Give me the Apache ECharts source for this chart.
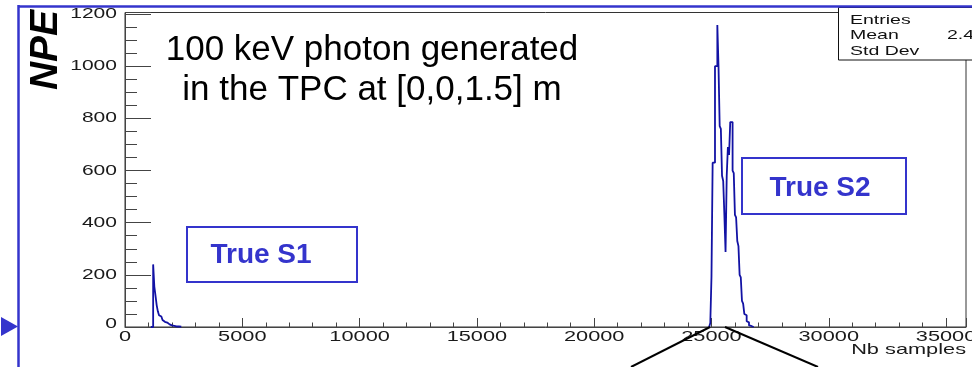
<!DOCTYPE html>
<html><head><meta charset="utf-8">
<script src="https://cdn.jsdelivr.net/npm/echarts@6/dist/echarts.min.js"></script>
<style>html,body{margin:0;padding:0;background:#fff}#c{width:972px;height:367px}</style>
</head><body><div id="c"></div>
<script>
// S1 histogram (bin left edges in samples, NPE per bin)
const s1Samples = [1100, 1200, 1250, 1300, 1350, 1400, 1450, 1500, 1550, 1600, 1650, 1700, 1800, 1900, 2000, 2100, 2200, 2300, 2400];
const s1NPE     = [0,    240,  155,  120,  84,   60,   45,   40,   33,   27,   20,   17,   10,   6,    4,    2,    2,    1,    0];
// S2 histogram
const s2Samples = [24900, 24950, 25000, 25050, 25100, 25150, 25200, 25250, 25300, 25350, 25400, 25450, 25500, 25550, 25600, 25650, 25700, 25750, 25800, 25850, 25900, 25950, 26000, 26050, 26100, 26150, 26200, 26250, 26300, 26350, 26400, 26450, 26500, 26550, 26600, 26650, 26700, 26750, 26800];
const s2NPE     = [0,     15,    192,   630,   630,   1000,  1000,  1158,  1000,  770,   760,   580,   560,   430,   288,   580,   690,   660,   786,   786,   600,   590,   430,   420,   330,   310,   200,   190,   100,   90,    50,    45,    22,    18,    6,     4,     1,     0,     0];
// axis ticks
const xTickValues = [0, 5000, 10000, 15000, 20000, 25000, 30000, 35000];
const xTickLabels = ['0', '5000', '10000', '15000', '20000', '25000', '30000', '35000'];
const yTickValues = [0, 200, 400, 600, 800, 1000, 1200];
const yTickLabels = ['0', '200', '400', '600', '800', '1000', '1200'];
const xName = 'Nb samples';
const yName = 'NPE';
const titleLines = ['100 keV photon generated', 'in the TPC at [0,0,1.5] m'];
const statsRows = ['Entries', 'Mean', 'Std Dev'];
const statsValues = ['', '2.4', ''];

const chart = echarts.init(document.getElementById('c'), null, {renderer: 'canvas'});
const zip = (a, b) => a.map((v, i) => [v, b[i]]);
const histColor = '#1212a4';
const blue = '#3434cc';
const FONT = '"Liberation Sans", Arial, sans-serif';

const option = {
  animation: false,
  grid: {left: 125, right: 6, top: 12.5, bottom: 40, show: true, borderColor: '#333', borderWidth: 1},
  xAxis: {
    type: 'value', min: 0, max: 35850, interval: 5000,
    axisLine: {lineStyle: {color: '#444', width: 1}},
    axisTick: {inside: true, length: 9, lineStyle: {color: '#444'}},
    minorTick: {show: true, splitNumber: 5, length: 4.5, lineStyle: {color: '#444'}},
    axisLabel: {show: false},
    splitLine: {show: false}
  },
  yAxis: {
    type: 'value', min: 0, max: 1206, interval: 200,
    axisLine: {show: true, lineStyle: {color: '#444', width: 1}},
    axisTick: {show: true, inside: true, length: 26, lineStyle: {color: '#444'}},
    minorTick: {show: true, splitNumber: 4, length: 12, lineStyle: {color: '#444'}},
    axisLabel: {show: false},
    splitLine: {show: false}
  },
  series: [
    {type: 'line', step: 'end', data: zip(s1Samples, s1NPE), showSymbol: false, symbol: 'none',
     lineStyle: {color: histColor, width: 1.8}, z: 3},
    {type: 'line', step: 'end', data: zip(s2Samples, s2NPE), showSymbol: false, symbol: 'none',
     lineStyle: {color: histColor, width: 1.8}, z: 3}
  ]
};
chart.setOption(option);

const g = [];
const txt = (x, y, text, opts) => Object.assign({
  type: 'text', x: x, y: y, z: 50,
  style: Object.assign({text: text, x: 0, y: 0, fill: '#1a1a1a', font: '14.5px ' + FONT,
    align: 'center', verticalAlign: 'middle', textAlign: 'center', textVerticalAlign: 'middle'}, opts.style || {})
}, opts.el || {});

// tick labels (horizontally stretched like the original pasted plot)
xTickValues.forEach((v, i) => {
  const p = chart.convertToPixel({gridIndex: 0}, [v, 0]);
  g.push(txt(p[0], p[1] + 10, xTickLabels[i], {el: {scaleX: 1.5}}));
});
yTickValues.forEach((v, i) => {
  const p = chart.convertToPixel({gridIndex: 0}, [0, v]);
  g.push(txt(p[0] - 8, p[1] - (v === 0 ? 3 : 0), yTickLabels[i], {el: {scaleX: 1.45}, style: {align: 'right', textAlign: 'right'}}));
});
g.push(txt(966, 350, xName, {el: {scaleX: 1.5}, style: {align: 'right', textAlign: 'right'}}));

// Y title
g.push(txt(46, 50, yName, {el: {rotation: Math.PI / 2}, style: {font: 'bold italic 39px ' + FONT, fill: '#000'}}));

// main annotation
g.push(txt(372, 50, titleLines[0], {style: {font: '35px ' + FONT, fill: '#000'}}));
g.push(txt(372, 90, titleLines[1], {style: {font: '35px ' + FONT, fill: '#000'}}));

// True S1 / S2 boxes
g.push({type: 'rect', shape: {x: 187, y: 227, width: 170, height: 55}, style: {fill: 'none', stroke: blue, lineWidth: 2}, z: 40});
g.push(txt(261, 255, 'True S1', {style: {font: 'bold 28px ' + FONT, fill: blue}}));
g.push({type: 'rect', shape: {x: 742, y: 158, width: 164, height: 56}, style: {fill: 'none', stroke: blue, lineWidth: 2}, z: 40});
g.push(txt(820, 188, 'True S2', {style: {font: 'bold 28px ' + FONT, fill: blue}}));

// stats box
g.push({type: 'rect', shape: {x: 838.5, y: 7.5, width: 140, height: 52.5}, style: {fill: '#fff', stroke: '#111', lineWidth: 1}, z: 45});
const rowY = [20.5, 35.5, 51];
statsRows.forEach((r, i) => {
  g.push(txt(850, rowY[i], r, {el: {scaleX: 1.5}, style: {align: 'left', textAlign: 'left', font: '13px ' + FONT, fill: '#111'}}));
  if (statsValues[i]) g.push(txt(947, rowY[i], statsValues[i], {el: {scaleX: 1.5}, style: {align: 'left', textAlign: 'left', font: '13px ' + FONT, fill: '#111'}}));
});

// outer slide frame and pointer marks
g.push({type: 'line', shape: {x1: 18.5, y1: 5, x2: 18.5, y2: 367}, style: {stroke: blue, lineWidth: 2.5}, z: 60});
g.push({type: 'line', shape: {x1: 18, y1: 6.5, x2: 972, y2: 6.5}, style: {stroke: blue, lineWidth: 2.5}, z: 60});
g.push({type: 'polygon', shape: {points: [[1, 317], [1, 336], [18, 326.5]]}, style: {fill: blue}, z: 60});
g.push({type: 'line', shape: {x1: 710, y1: 327, x2: 631, y2: 367}, style: {stroke: '#000', lineWidth: 2}, z: 60});
g.push({type: 'line', shape: {x1: 725, y1: 327, x2: 818, y2: 367}, style: {stroke: '#000', lineWidth: 2}, z: 60});

chart.setOption({graphic: g});
</script>
</body></html>
